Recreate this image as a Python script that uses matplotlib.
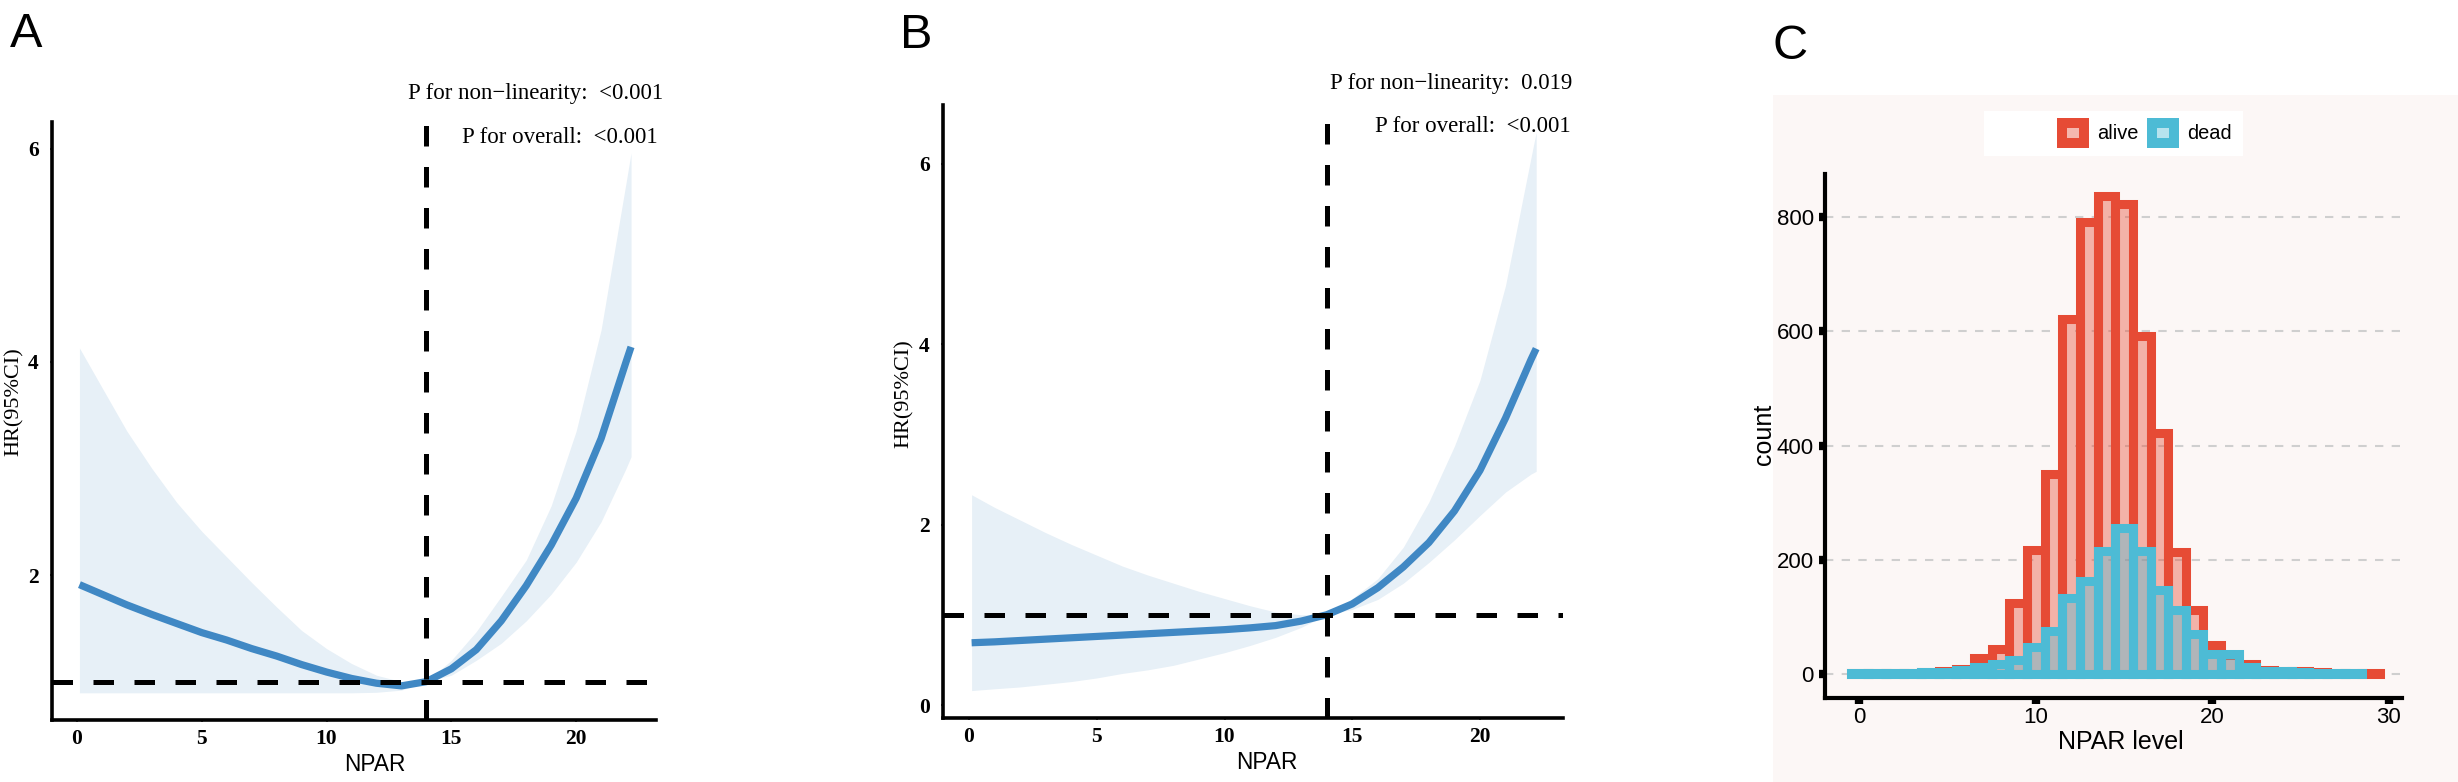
import matplotlib
matplotlib.use("Agg")
import matplotlib.pyplot as plt
from matplotlib.colors import to_rgba
from matplotlib.patches import Rectangle, Patch

W, H = 2458, 782

# datos
npar = [0.1, 1, 2, 3, 4, 5, 6, 7, 8, 9, 10, 11, 12, 13, 14, 15, 16, 17, 18, 19, 20, 21, 22, 22.2]

hr_a = [1.91, 1.82, 1.72, 1.63, 1.545, 1.46, 1.39, 1.31, 1.24, 1.16, 1.09, 1.03,
        0.985, 0.96, 1.0, 1.12, 1.3, 1.57, 1.9, 2.28, 2.72, 3.28, 4.0, 4.14]
hi_a = [4.13, 3.76, 3.35, 3.0, 2.68, 2.41, 2.17, 1.93, 1.7, 1.48, 1.31, 1.17,
        1.06, 1.0, 1.0, 1.2, 1.47, 1.8, 2.14, 2.65, 3.35, 4.3, 5.68, 5.96]
lo_a = [0.895, 0.895, 0.895, 0.895, 0.895, 0.895, 0.895, 0.895, 0.895, 0.895, 0.895, 0.895,
        0.9, 0.92, 1.0, 1.06, 1.2, 1.36, 1.57, 1.82, 2.12, 2.5, 3.0, 3.11]

hr_b = [0.69, 0.70, 0.715, 0.73, 0.745, 0.76, 0.775, 0.79, 0.805, 0.82, 0.835, 0.855,
        0.88, 0.93, 1.0, 1.12, 1.3, 1.53, 1.8, 2.15, 2.6, 3.18, 3.83, 3.95]
hi_b = [2.33, 2.19, 2.05, 1.91, 1.78, 1.66, 1.54, 1.44, 1.35, 1.26, 1.18, 1.1,
        1.03, 1.0, 1.0, 1.18, 1.4, 1.75, 2.25, 2.87, 3.6, 4.65, 6.07, 6.35]
lo_b = [0.16, 0.18, 0.2, 0.23, 0.26, 0.3, 0.35, 0.39, 0.44, 0.51, 0.58, 0.66,
        0.75, 0.86, 1.0, 1.06, 1.17, 1.35, 1.58, 1.83, 2.1, 2.36, 2.56, 2.59]

knot = 14
p_text_a = ["P for non\u2212linearity:  <0.001", "P for overall:  <0.001"]
p_text_b = ["P for non\u2212linearity:  0.019", "P for overall:  <0.001"]

npar_bins = list(range(30))
alive = [2, 2, 3, 3, 4, 6, 10, 29, 45, 125, 217, 350, 621, 791, 836, 823, 592, 422,
         213, 112, 51, 34, 18, 8, 6, 5, 4, 3, 3, 3]
dead = [3, 3, 3, 3, 4, 4, 8, 12, 18, 25, 47, 75, 134, 164, 215, 256, 215, 147,
        112, 71, 36, 36, 12, 6, 5, 4, 3, 3, 2]

LINE = "#4088C4"
BAND = "#E7F0F7"
RED = "#E64B35"
CYAN = "#4DBBD5"
PINK_BG = "#FCF7F6"


def fx(px):
    return px / W


def fy(py):
    return 1 - py / H


def axes_box(left, top, right, bottom):
    return [fx(left), fy(bottom), (right - left) / W, (bottom - top) / H]


def rcs_panel(ax, hr, lo, hi, xlim, ylim, yticks, xlab_pos, ylab_pos):
    ax.fill_between(npar, lo, hi, color=BAND, lw=0, zorder=1)
    ax.plot(npar, hr, color=LINE, lw=5.2, solid_capstyle="butt", solid_joinstyle="round", zorder=3)
    ax.axhline(1, color="black", lw=3.6, dashes=(4.1, 4.1), zorder=4)
    ax.axvline(knot, color="black", lw=3.6, dashes=(4.1, 4.1), zorder=4)
    ax.set_xlim(*xlim)
    ax.set_ylim(*ylim)
    ax.set_xticks([0, 5, 10, 15, 20])
    ax.set_yticks(yticks)
    for s in ["top", "right"]:
        ax.spines[s].set_visible(False)
    for s in ["left", "bottom"]:
        ax.spines[s].set_linewidth(2.6)
    ax.tick_params(length=1.5, width=1.5, color="#555555", labelsize=15.5)
    ax.tick_params(axis="x", pad=5)
    ax.tick_params(axis="y", pad=8)
    for lab in ax.get_xticklabels() + ax.get_yticklabels():
        lab.set_fontfamily("Liberation Serif")
        lab.set_fontweight("bold")
    ax.set_xlabel("NPAR", fontsize=16.3, family="Liberation Sans")
    ax.xaxis.set_label_coords(*xlab_pos)
    ax.xaxis.label.set_va("center")
    ax.set_ylabel("HR(95%CI)", fontsize=16, family="Liberation Serif")
    ax.yaxis.set_label_coords(*ylab_pos)
    ax.yaxis.label.set_va("center")
    ax.yaxis.label.set_ha("center")


fig = plt.figure(figsize=(W / 100, H / 100), dpi=100)

# fondo del panel C
fig.patches.append(Rectangle((fx(1773), 0), 1 - fx(1773), fy(95), transform=fig.transFigure,
                             facecolor=PINK_BG, edgecolor="none", zorder=-5))

# Panel A
ax_a = fig.add_axes(axes_box(52, 122, 656, 720))
rcs_panel(ax_a, hr_a, lo_a, hi_a, (-1.0, 23.2), (0.64, 6.25), [2, 4, 6],
          (0.535, -0.075), (-0.063, 0.533))
fig.text(fx(663), fy(99), p_text_a[0], ha="right", va="baseline", fontsize=16.5, family="Liberation Serif")
fig.text(fx(658), fy(143), p_text_a[1], ha="right", va="baseline", fontsize=16.5, family="Liberation Serif")

# Panel B
ax_b = fig.add_axes(axes_box(943, 105, 1563, 718))
rcs_panel(ax_b, hr_b, lo_b, hi_b, (-1.02, 23.25), (-0.144, 6.65), [0, 2, 4, 6],
          (0.523, -0.073), (-0.063, 0.529))
fig.text(fx(1572), fy(89), p_text_b[0], ha="right", va="baseline", fontsize=16.5, family="Liberation Serif")
fig.text(fx(1571), fy(132), p_text_b[1], ha="right", va="baseline", fontsize=16.5, family="Liberation Serif")

# Panel C
ax_c = fig.add_axes(axes_box(1825, 174, 2402, 698))
ax_c.set_facecolor("none")
ax_c.bar(npar_bins, alive, width=1, facecolor=to_rgba(RED, 0.4), edgecolor=RED,
         linewidth=6.5, zorder=2)
ax_c.bar(npar_bins[:len(dead)], dead, width=1, facecolor=to_rgba(CYAN, 0.4), edgecolor=CYAN,
         linewidth=6.5, zorder=3)
ax_c.set_xlim(-1.95, 30.75)
ax_c.set_ylim(-41.5, 875)
ax_c.set_xticks([0, 10, 20, 30])
ax_c.set_yticks([0, 200, 400, 600, 800])
ax_c.set_axisbelow(True)
ax_c.yaxis.grid(True, color="#CFCFCF", lw=1.5, dashes=(4, 4))
for s in ["top", "right"]:
    ax_c.spines[s].set_visible(False)
for s in ["left", "bottom"]:
    ax_c.spines[s].set_linewidth(3)
ax_c.tick_params(length=4, width=6, color="black", labelsize=16)
ax_c.tick_params(axis="x", pad=2.5)
ax_c.tick_params(axis="y", pad=4)
for lab in ax_c.get_xticklabels() + ax_c.get_yticklabels():
    lab.set_fontfamily("Liberation Sans")
ax_c.set_xlabel("NPAR level", fontsize=18, family="Liberation Sans")
ax_c.xaxis.set_label_coords(0.513, -0.084)
ax_c.xaxis.label.set_va("center")
ax_c.set_ylabel("count", fontsize=18, family="Liberation Sans")
ax_c.yaxis.set_label_coords(-0.106, 0.504)
ax_c.yaxis.label.set_va("center")

# leyenda
fig.patches.append(Rectangle((fx(1984), fy(156)), (2243 - 1984) / W, 45 / H, transform=fig.transFigure,
                             facecolor="white", edgecolor="none", zorder=1))
handles = [Patch(facecolor=to_rgba(RED, 0.4), edgecolor=RED, linewidth=7.2),
           Patch(facecolor=to_rgba(CYAN, 0.4), edgecolor=CYAN, linewidth=7.2)]
fig.legend(handles, ["alive", "dead"], loc="center", bbox_to_anchor=(fx(2147), fy(133)),
           ncol=2, frameon=False, handlelength=1.1, handleheight=1.15,
           handletextpad=0.65, columnspacing=0.7, borderpad=0,
           prop={"family": "Liberation Sans", "size": 14.4})

# etiquetas de panel
for lbl, x, y in [("A", 10, 47), ("B", 900, 48), ("C", 1773, 59)]:
    fig.text(fx(x), fy(y), lbl, ha="left", va="baseline", fontsize=35, family="Liberation Sans")

fig.savefig("out.png", dpi=100)
